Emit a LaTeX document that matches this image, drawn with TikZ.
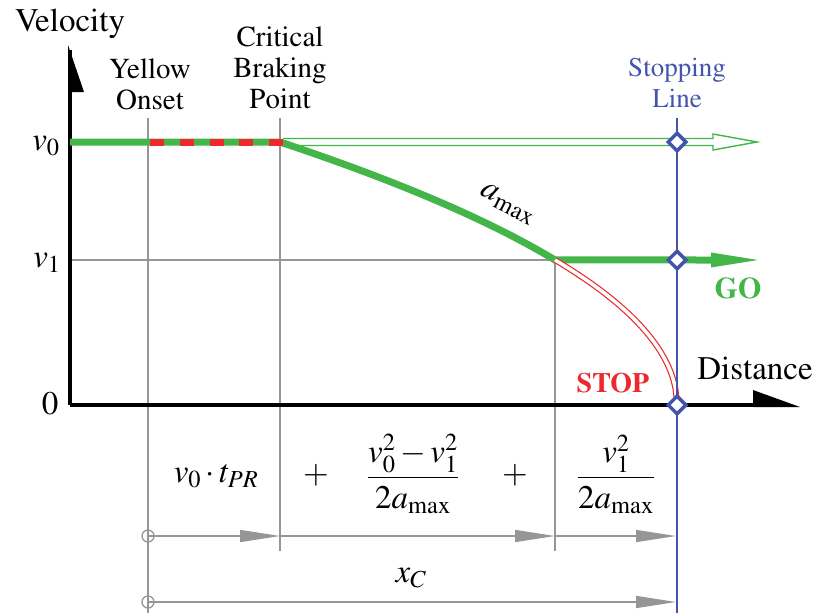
\documentclass[tikz,border=0pt]{standalone}
\usepackage[T1]{fontenc}
\usepackage{mathptmx}
\usetikzlibrary{arrows.meta,shapes.geometric}
\definecolor{cgreen}{RGB}{68,181,73}
\definecolor{cred}{RGB}{237,41,45}
\definecolor{cblue}{RGB}{68,84,172}
\definecolor{cgray}{RGB}{150,150,150}
\tikzset{
  axisline/.style={line width=4pt, black},
  guide/.style={cgray, line width=1.3pt},
  dimarrow/.style={cgray, line width=1.5pt, -{Triangle[length=40pt,width=12pt]}},
  dimorigin/.style={circle, draw=cgray, line width=1.3pt, minimum size=12pt, inner sep=0pt},
  stopmark/.style={diamond, draw=cblue, fill=white, line width=3.5pt, minimum size=19pt, inner sep=0pt},
  lbl/.style={font=\fontsize{29}{31}\selectfont, align=center, inner sep=0pt},
  biglbl/.style={font=\fontsize{33}{33}\selectfont, inner sep=0pt},
  mathlbl/.style={font=\fontsize{33}{36}\selectfont, inner sep=0pt},
  thickgreen/.style={cgreen, line width=7pt},
}
\begin{document}
\begin{tikzpicture}[x=1pt,y=-1pt]
\useasboundingbox (0,0) rectangle (818,613);
% guide lines
\draw[guide] (148,118) -- (148,613);
\draw[guide] (280,118) -- (280,551);
\draw[guide] (555,260) -- (555,551);
\draw[guide] (70,260) -- (555,260);
% axes
\coordinate (O) at (70,405);
\coordinate (ytop) at (70,50);
\coordinate (xend) at (760,405);
\draw[axisline] (O) -- (ytop);
\draw[axisline] (O) -- (xend);
\fill (68,45) -- (84,92) -- (68,92) -- cycle;
\fill (753,390) -- (800,407) -- (753,407) -- cycle;
% open green arrow at v0
\draw[cgreen, line width=1.4pt, fill=white]
  (283,138.5) -- (713,138.5) -- (713,134) -- (757,142) -- (713,150) -- (713,145.5) -- (283,145.5);
% green thick profile
\draw[thickgreen] (70,142) -- (281,142)
  -- plot[domain=0:1, samples=40] ({280+275*\x}, {405-10*sqrt(691.69-481.44*\x)})
  -- (714,260);
\fill[cgreen] (711,252.5) -- (758,260) -- (711,267.5) -- cycle;
\draw[cred, line width=7pt, dash pattern=on 14pt off 15.75pt] (150,142) -- (284,142);
% red stop curve
\draw[cred, line width=1.2pt, double=white, double distance=3.5pt]
  plot[domain=0:1, samples=80] ({555+122*\x}, {405-145*sqrt(1-\x)});
% stopping line
\draw[cblue, line width=1.5pt] (677,118) -- (677,613);
\node[stopmark] (d0) at (677,142) {};
\node[stopmark] (d1) at (677,260) {};
\node[stopmark] (d2) at (677,405) {};
% dimension arrows
\node[dimorigin] (o1) at (148,536) {};
\node[dimorigin] (o2) at (148,602) {};
\coordinate (c1) at (280,536);
\coordinate (c2) at (555,536);
\coordinate (c3) at (676,536);
\coordinate (c4) at (676,602);
\draw[dimarrow] (o1.center) -- (c1);
\draw[dimarrow] (c1) -- (c2);
\draw[dimarrow] (c2) -- (c3);
\draw[dimarrow] (o2.center) -- (c4);
% labels
\node[biglbl] (vel) at (70,24) {Velocity};
\node[biglbl] (dist) at (755,368) {Distance};
\node[lbl, anchor=north] (yel) at (150,59) {Yellow\\Onset};
\node[lbl, anchor=north] (cbp) at (280,27) {Critical\\Braking\\Point};
\node[lbl, cblue, font=\fontsize{27}{31}\selectfont, anchor=north] (sl) at (677,58) {Stopping\\Line};
\node[inner sep=0pt, cgreen, font=\bfseries\fontsize{30}{30}\selectfont] (go) at (738,288) {GO};
\node[inner sep=0pt, cred, font=\bfseries\fontsize{28}{28}\selectfont] (stop) at (613,383) {STOP};
\node[mathlbl] (lv0) at (46,146) {$v_0$};
\node[mathlbl] (lv1) at (47,263) {$v_1$};
\node[mathlbl] (lz) at (50,404) {$0$};
\node[mathlbl, rotate=-27] (amax) at (508,204) {$a_{\mathrm{max}}$};
\node[mathlbl] (t1) at (216,476) {$v_0\cdot t_{PR}$};
\node[mathlbl] (p1) at (316,475) {$+$};
\node[mathlbl] (f1) at (413,474) {$\displaystyle\frac{v_0^2-v_1^2}{2a_{\mathrm{max}}}$};
\node[mathlbl] (p2) at (515,475) {$+$};
\node[mathlbl] (f2) at (616,474) {$\displaystyle\frac{v_1^2}{2a_{\mathrm{max}}}$};
\node[mathlbl] (xc) at (411,578) {$x_C$};
\end{tikzpicture}
\end{document}
